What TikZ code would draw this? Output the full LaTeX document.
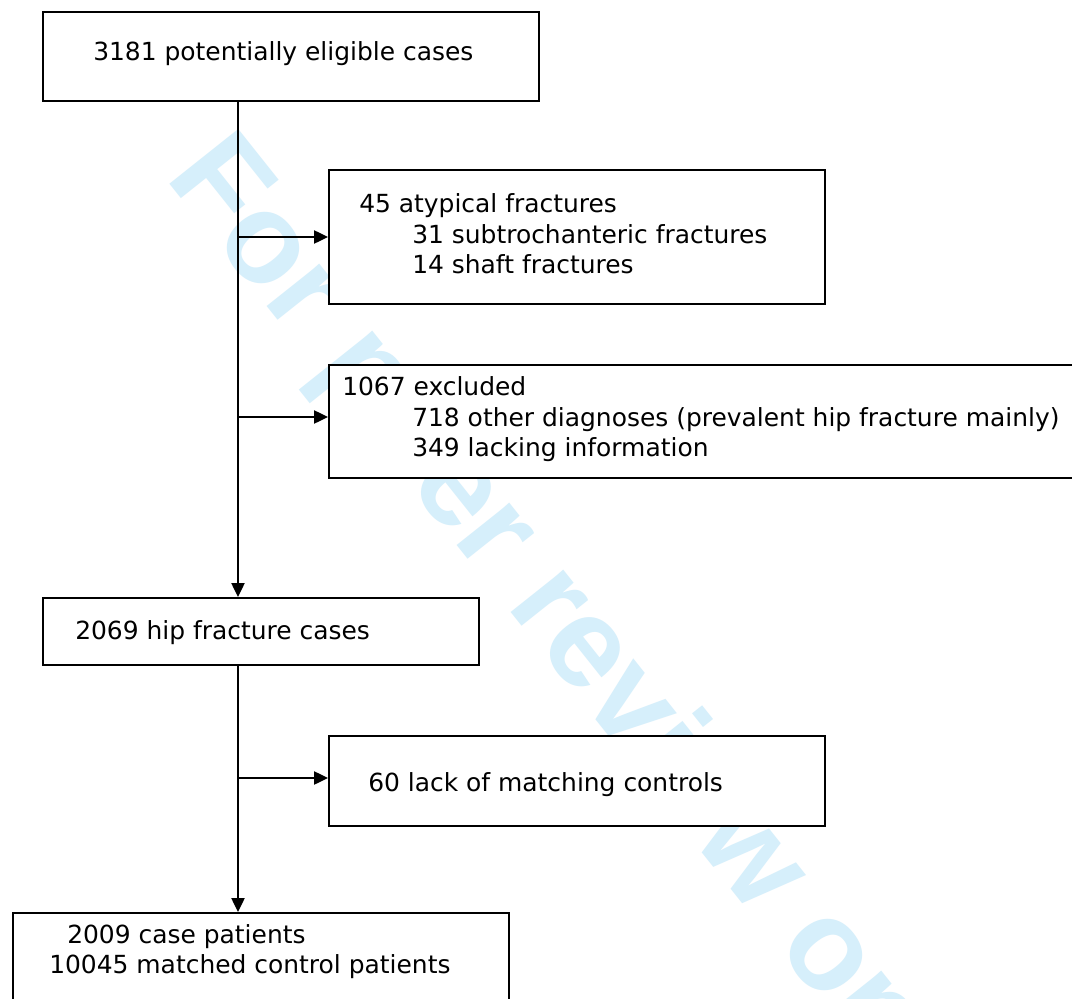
\documentclass[tikz,border=0pt]{standalone}
\usepackage{fontspec}
\setmainfont{DejaVu Sans}
\newfontfamily\wmfont{Liberation Sans}
\usetikzlibrary{arrows.meta}
\definecolor{wmblue}{RGB}{214,239,251}
\tikzset{
  box/.style={draw=black, fill=white, line width=1.4pt, rectangle, anchor=north west, inner sep=0pt},
  txt/.style={anchor=base west, inner sep=0pt, font=\fontsize{18.7pt}{22.9pt}\selectfont},
  conn/.style={line width=1pt, -{Triangle[length=10.5pt,width=10pt]}},
  wmark/.style={anchor=base west, inner sep=0pt, text=wmblue, font=\wmfont\bfseries\fontsize{96pt}{110pt}\selectfont, rotate=-51.5}
}
\begin{document}
\begin{tikzpicture}[x=0.75pt,y=-0.75pt]
\clip (0,0) rectangle (1072,999);
\fill[white] (0,0) rectangle (1072,999);
% watermark
\node[wmark] (wm) at (164,177) {For peer review only};
% boxes
\node[box, minimum width=372pt, minimum height=66.75pt] (start) at (42,11) {};
\node[box, minimum width=372pt, minimum height=100.5pt] (atyp) at (328,169) {};
\node[box, minimum width=564pt, minimum height=84.75pt] (excl) at (328,364) {};
\node[box, minimum width=327pt, minimum height=50.25pt] (hip) at (42,597) {};
\node[box, minimum width=372pt, minimum height=67.5pt] (lack) at (328,735) {};
\node[box, minimum width=372pt, minimum height=75pt] (final) at (12,912) {};
% texts
\node[txt] (t1) at (93,61) {3181 potentially eligible cases};
\node[txt] (a1) at (359,212) {45 atypical fractures};
\node[txt] (a2) at (412,243) {31 subtrochanteric fractures};
\node[txt] (a3) at (412,273) {14 shaft fractures};
\node[txt] (e1) at (342,395) {1067 excluded};
\node[txt] (e2) at (412,426) {718 other diagnoses (prevalent hip fracture mainly)};
\node[txt] (e3) at (412,456) {349 lacking information};
\node[txt] (h1) at (75,639) {2069 hip fracture cases};
\node[txt] (l1) at (368,791) {60 lack of matching controls};
\node[txt] (f1) at (67,943) {2009 case patients};
\node[txt] (f2) at (49,973) {10045 matched control patients};
% connectors
\coordinate (tx) at (238,0);
\coordinate (ja) at (238,237);
\coordinate (je) at (238,417);
\coordinate (jl) at (238,778);
\draw[conn] (start.south -| tx) -- (hip.north -| tx);
\draw[conn] (hip.south -| tx) -- (final.north -| tx);
\draw[conn] (ja) -- (ja -| atyp.west);
\draw[conn] (je) -- (je -| excl.west);
\draw[conn] (jl) -- (jl -| lack.west);
\end{tikzpicture}
\end{document}
